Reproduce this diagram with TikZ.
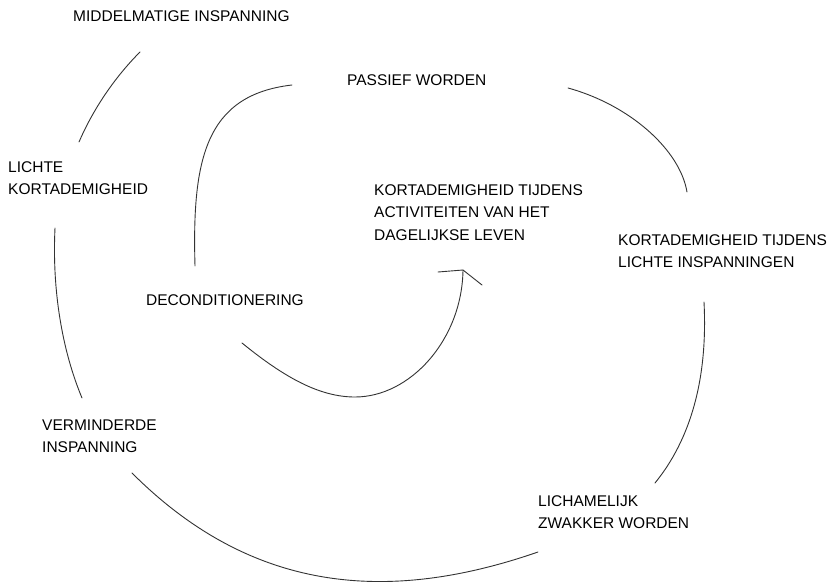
\documentclass[tikz,border=0pt]{standalone}
\usepackage{fontspec}
\setmainfont{Liberation Sans}
\begin{document}
\begin{tikzpicture}[x=1pt,y=-1pt,
  lbl/.style={anchor=base west, inner sep=0pt, text=black,
              font=\fontsize{15.5}{22.5}\selectfont},
  spiral/.style={draw=black!80, line width=0.9pt, line cap=round}]
\useasboundingbox[fill=white] (0,0) rectangle (830,586);

% labels along the spiral
\node[lbl] (mid) at (73,22)  {MIDDELMATIGE INSPANNING};
\node[lbl] (pas) at (347,85) {PASSIEF WORDEN};
\node[lbl] (lko) at (8,172)  {\vtop{\hbox{LICHTE}\hbox{KORTADEMIGHEID}}};
\node[lbl] (kad) at (374,195) {\vtop{\hbox{KORTADEMIGHEID TIJDENS}\hbox{ACTIVITEITEN VAN HET}\hbox{DAGELIJKSE LEVEN}}};
\node[lbl] (kli) at (618,245) {\vtop{\hbox{KORTADEMIGHEID TIJDENS}\hbox{LICHTE INSPANNINGEN}}};
\node[lbl] (dec) at (146,305) {DECONDITIONERING};
\node[lbl] (ver) at (42,430) {\vtop{\hbox{VERMINDERDE}\hbox{INSPANNING}}};
\node[lbl] (lic) at (538,506) {\vtop{\hbox{LICHAMELIJK}\hbox{ZWAKKER WORDEN}}};

% outer turn
\draw[spiral] (140,52) .. controls (118,74) and (95,105) .. (79,142);
\draw[spiral] (55,228) .. controls (52,290) and (62,350) .. (82,398);
\draw[spiral] (132,473) .. controls (252,593) and (388,604) .. (538,552);
\draw[spiral] (655,483) .. controls (690,440) and (708,380) .. (704,302);
\draw[spiral] (687,192) .. controls (680,150) and (630,105) .. (568,88);

% inner turn ending in the arrow
\draw[spiral] (292,85) .. controls (205,95) and (192,160) .. (195,266);
\coordinate (tip) at (463,270);
\draw[spiral] (242,343) .. controls (285,378) and (320,397) .. (355,397)
              .. controls (410,397) and (462,340) .. (tip);
\draw[spiral] (438,272) -- (tip) -- (482,285);
\end{tikzpicture}
\end{document}
